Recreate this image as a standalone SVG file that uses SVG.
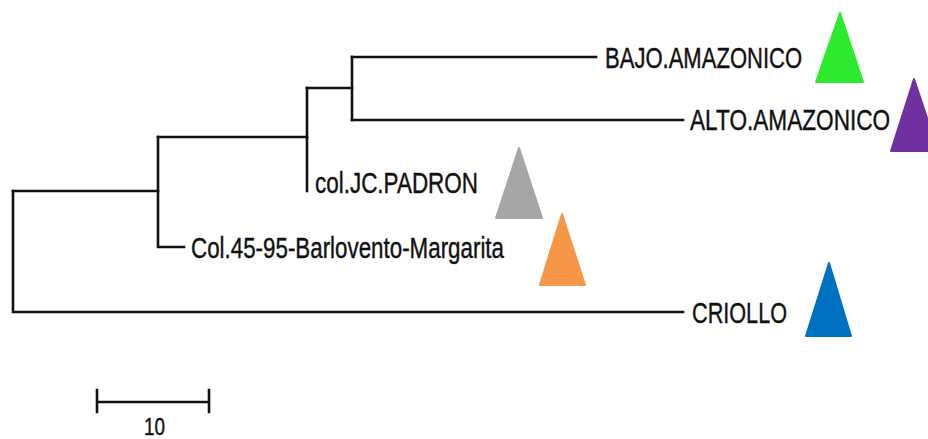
<svg xmlns="http://www.w3.org/2000/svg" width="928" height="439" viewBox="0 0 928 439">
  <style>
    .br { fill: none; stroke: #111111; stroke-width: 2.6; stroke-linecap: square; }
    .lbl { font-family: "Liberation Sans", Arial, sans-serif; font-size: 29px; fill: #111; stroke: #111; stroke-width: 0.4; }
    .scale { font-size: 24px; }
    .tri { stroke-linejoin: round; stroke-width: 2; }
  </style>
  <rect width="928" height="439" fill="#ffffff"/>

  <!-- tree branches -->
  <g id="connectors">
    <path class="br" d="M13 191 V312 H683"/>
    <path class="br" d="M13 191 H158"/>
    <path class="br" d="M158 137 V247 H184"/>
    <path class="br" d="M158 137 H307"/>
    <path class="br" d="M307 88 V191"/>
    <path class="br" d="M307 88 H352"/>
    <path class="br" d="M352 57 V120"/>
    <path class="br" d="M352 57 H596"/>
    <path class="br" d="M352 120 H683"/>
  </g>

  <!-- leaves with their group markers -->
  <g id="bajo-amazonico">
    <text class="lbl" transform="translate(605 68) scale(0.76 1)">BAJO.AMAZONICO</text>
    <polygon class="tri" points="840,13 863,82 816,82" fill="#2eea2e" stroke="#2eea2e"/>
  </g>
  <g id="alto-amazonico">
    <text class="lbl" transform="translate(690 130) scale(0.78 1)">ALTO.AMAZONICO</text>
    <polygon class="tri" points="914,79 938,151 891,151" fill="#7030a0" stroke="#7030a0"/>
  </g>
  <g id="col-jc-padron">
    <text class="lbl" x="315" y="193" textLength="163" lengthAdjust="spacingAndGlyphs">col.JC.PADRON</text>
    <polygon class="tri" points="519,148 542,218 496,218" fill="#a6a6a6" stroke="#a6a6a6"/>
  </g>
  <g id="col-45-95">
    <text class="lbl" x="191" y="258" textLength="313" lengthAdjust="spacingAndGlyphs">Col.45-95-Barlovento-Margarita</text>
    <polygon class="tri" points="562,214 585,285 540,285" fill="#f79646" stroke="#f79646"/>
  </g>
  <g id="criollo">
    <text class="lbl" x="692" y="323" textLength="95" lengthAdjust="spacingAndGlyphs">CRIOLLO</text>
    <polygon class="tri" points="829,263 851,336 806,336" fill="#0070c0" stroke="#0070c0"/>
  </g>

  <!-- scale bar -->
  <g id="scale-bar">
    <path class="br" d="M97 402 H209 M97 390 V412 M209 390 V412" stroke-linecap="butt"/>
    <text class="lbl scale" x="144" y="435" textLength="21" lengthAdjust="spacingAndGlyphs">10</text>
  </g>
</svg>
